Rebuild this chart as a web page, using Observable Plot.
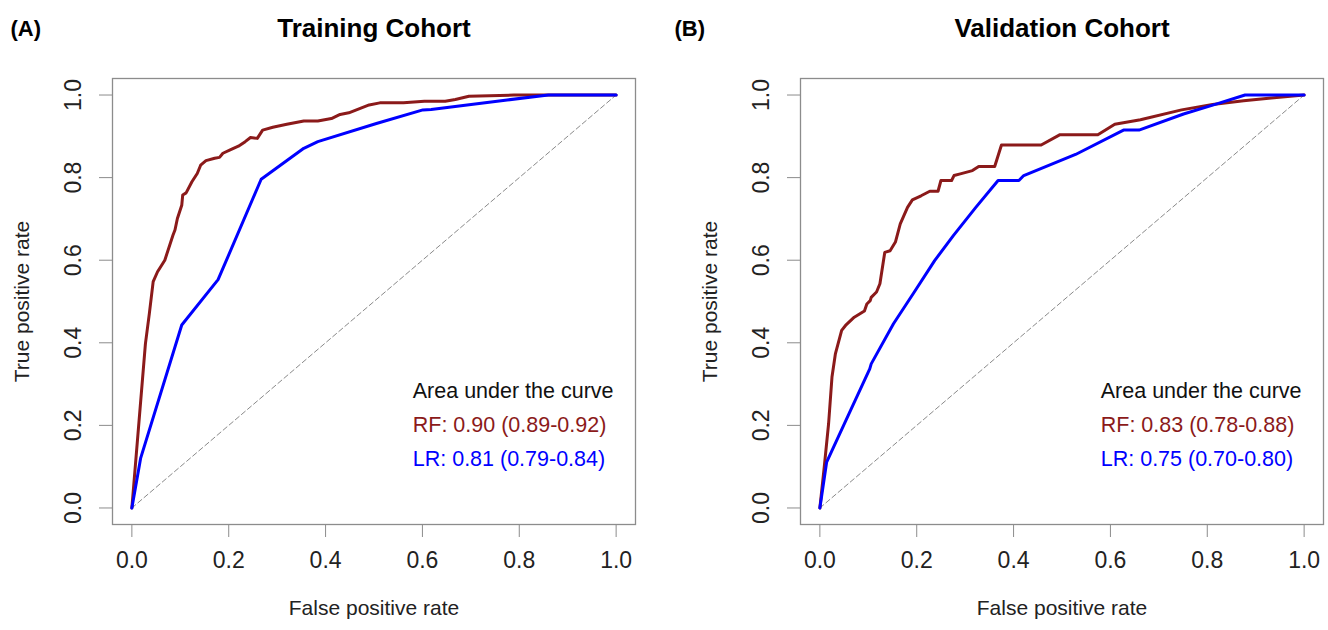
<!DOCTYPE html>
<html>
<head>
<meta charset="utf-8">
<script src="https://cdn.jsdelivr.net/npm/d3@7"></script>
<script src="https://cdn.jsdelivr.net/npm/@observablehq/plot@0.6"></script>
<style>
  html, body { margin: 0; padding: 0; background: #fff; }
  #wrap { position: relative; width: 1328px; height: 630px; }
  #left, #right { position: absolute; top: 0; }
  #left { left: 0; }
  #right { left: 664px; }
</style>
</head>
<body>
<div id="wrap"><div id="left"></div><div id="right"></div></div>
<script>
// ---- Data ----
const xTicks = [0, 0.2, 0.4, 0.6, 0.8, 1.0];
const yTicks = [0, 0.2, 0.4, 0.6, 0.8, 1.0];
const xTitle = "False positive rate";
const yTitle = "True positive rate";

const trainTitle = "Training Cohort";
const trainTag = "(A)";
const trainLegend = ["Area under the curve", "RF: 0.90 (0.89-0.92)", "LR: 0.81 (0.79-0.84)"];
const trainRF_fpr = [0, 0.028, 0.036, 0.044, 0.053, 0.068, 0.085, 0.089, 0.094, 0.103, 0.105, 0.112, 0.124, 0.135, 0.142, 0.153, 0.171, 0.181, 0.188, 0.203, 0.220, 0.234, 0.245, 0.259, 0.270, 0.291, 0.320, 0.355, 0.384, 0.412, 0.430, 0.448, 0.490, 0.512, 0.561, 0.604, 0.647, 0.668, 0.696, 0.789, 1.0];
const trainRF_tpr = [0, 0.398, 0.470, 0.548, 0.572, 0.600, 0.661, 0.673, 0.701, 0.733, 0.758, 0.763, 0.790, 0.810, 0.830, 0.841, 0.847, 0.849, 0.859, 0.867, 0.876, 0.887, 0.897, 0.895, 0.915, 0.922, 0.929, 0.937, 0.937, 0.943, 0.953, 0.957, 0.976, 0.981, 0.981, 0.985, 0.985, 0.989, 0.997, 1.0, 1.0];
const trainLR_fpr = [0, 0.018, 0.103, 0.178, 0.188, 0.267, 0.355, 0.384, 0.505, 0.601, 0.618, 0.775, 0.860, 1.0];
const trainLR_tpr = [0, 0.120, 0.443, 0.553, 0.580, 0.796, 0.871, 0.887, 0.931, 0.964, 0.965, 0.988, 1.0, 1.0];

const validTitle = "Validation Cohort";
const validTag = "(B)";
const validLegend = ["Area under the curve", "RF: 0.83 (0.78-0.88)", "LR: 0.75 (0.70-0.80)"];
const validRF_fpr = [0, 0.009, 0.018, 0.025, 0.032, 0.045, 0.053, 0.071, 0.092, 0.097, 0.104, 0.106, 0.117, 0.124, 0.134, 0.145, 0.156, 0.166, 0.181, 0.191, 0.209, 0.227, 0.244, 0.250, 0.272, 0.277, 0.290, 0.315, 0.328, 0.361, 0.375, 0.457, 0.496, 0.574, 0.609, 0.662, 0.747, 0.811, 0.875, 0.932, 1.0];
const validRF_tpr = [0, 0.099, 0.204, 0.317, 0.373, 0.430, 0.442, 0.462, 0.477, 0.494, 0.502, 0.510, 0.523, 0.543, 0.619, 0.623, 0.644, 0.688, 0.728, 0.746, 0.756, 0.767, 0.767, 0.793, 0.793, 0.805, 0.809, 0.817, 0.827, 0.827, 0.879, 0.879, 0.904, 0.904, 0.929, 0.940, 0.964, 0.977, 0.986, 0.993, 1.0];
const validLR_fpr = [0, 0.014, 0.060, 0.103, 0.106, 0.152, 0.195, 0.237, 0.276, 0.322, 0.368, 0.411, 0.421, 0.528, 0.627, 0.659, 0.751, 0.818, 0.878, 1.0];
const validLR_tpr = [0, 0.111, 0.228, 0.337, 0.349, 0.446, 0.523, 0.599, 0.660, 0.728, 0.793, 0.793, 0.805, 0.856, 0.915, 0.915, 0.954, 0.978, 1.0, 1.0];

const RF_COLOR = "#8B1A1A";
const LR_COLOR = "#0000FF";
const LEGEND_COLORS = ["#111", RF_COLOR, LR_COLOR];
const FONT = "'Liberation Sans', Arial, sans-serif";

function pairs(xs, ys) { return xs.map((x, i) => ({fpr: x, tpr: ys[i]})); }

function panel({title, tag, legend, rf, lr, marginLeft, marginRight}) {
  const diag = [0, 1];
  return Plot.plot({
    width: 664,
    height: 630,
    marginLeft, marginRight,
    marginTop: 78,
    marginBottom: 106,
    x: {domain: [-0.04, 1.04]},
    y: {domain: [-0.04, 1.04]},
    style: {fontFamily: FONT, background: "#fff", color: "#222", overflow: "visible"},
    marks: [
      Plot.line(diag, {x: d => d, y: d => d, stroke: "#8a8a8a", strokeWidth: 1, strokeDasharray: "5,3"}),
      Plot.line(rf, {x: "fpr", y: "tpr", stroke: RF_COLOR, strokeWidth: 3}),
      Plot.line(lr, {x: "fpr", y: "tpr", stroke: LR_COLOR, strokeWidth: 3}),
      Plot.frame({stroke: "#8c8c8c", strokeWidth: 1.3}),
      Plot.axisX({ticks: xTicks, tickSize: 13, tickPadding: 14, tickFormat: d => d.toFixed(1), fontSize: 23, label: null, stroke: "#8c8c8c", fill: "#222"}),
      Plot.axisY({ticks: yTicks, tickSize: 13, tickFormat: () => "", label: null, stroke: "#8c8c8c"}),
      Plot.text(yTicks, {y: d => d, text: d => d.toFixed(1), frameAnchor: "left", textAnchor: "middle", lineAnchor: "middle", dx: -39, rotate: -90, fontSize: 23, fill: "#222"}),
      Plot.text([xTitle], {x: 0.5, frameAnchor: "bottom", textAnchor: "middle", lineAnchor: "middle", dy: 84, fontSize: 21, fill: "#222"}),
      Plot.text([yTitle], {y: 0.5, frameAnchor: "left", textAnchor: "middle", lineAnchor: "middle", dx: -90, rotate: -90, fontSize: 21, fill: "#222"}),
      Plot.text([title], {frameAnchor: "top", textAnchor: "middle", lineAnchor: "middle", dy: -50, fontSize: 26, fontWeight: "bold", fill: "#000"}),
      Plot.text([tag], {frameAnchor: "top-left", dx: 10 - marginLeft, dy: -50, textAnchor: "start", lineAnchor: "middle", fontSize: 22, fontWeight: "bold", fill: "#000"}),
      ...legend.map((line, i) =>
        Plot.text([line], {x: 0.58, y: 0.282, dy: i * 34, textAnchor: "start", lineAnchor: "middle", fontSize: 21.5, fill: LEGEND_COLORS[i]})
      )
    ]
  });
}

document.getElementById("left").appendChild(panel({
  title: trainTitle, tag: trainTag, legend: trainLegend,
  rf: pairs(trainRF_fpr, trainRF_tpr), lr: pairs(trainLR_fpr, trainLR_tpr),
  marginLeft: 112, marginRight: 29
}));
document.getElementById("right").appendChild(panel({
  title: validTitle, tag: validTag, legend: validLegend,
  rf: pairs(validRF_fpr, validRF_tpr), lr: pairs(validLR_fpr, validLR_tpr),
  marginLeft: 136, marginRight: 5
}));
</script>
</body>
</html>
